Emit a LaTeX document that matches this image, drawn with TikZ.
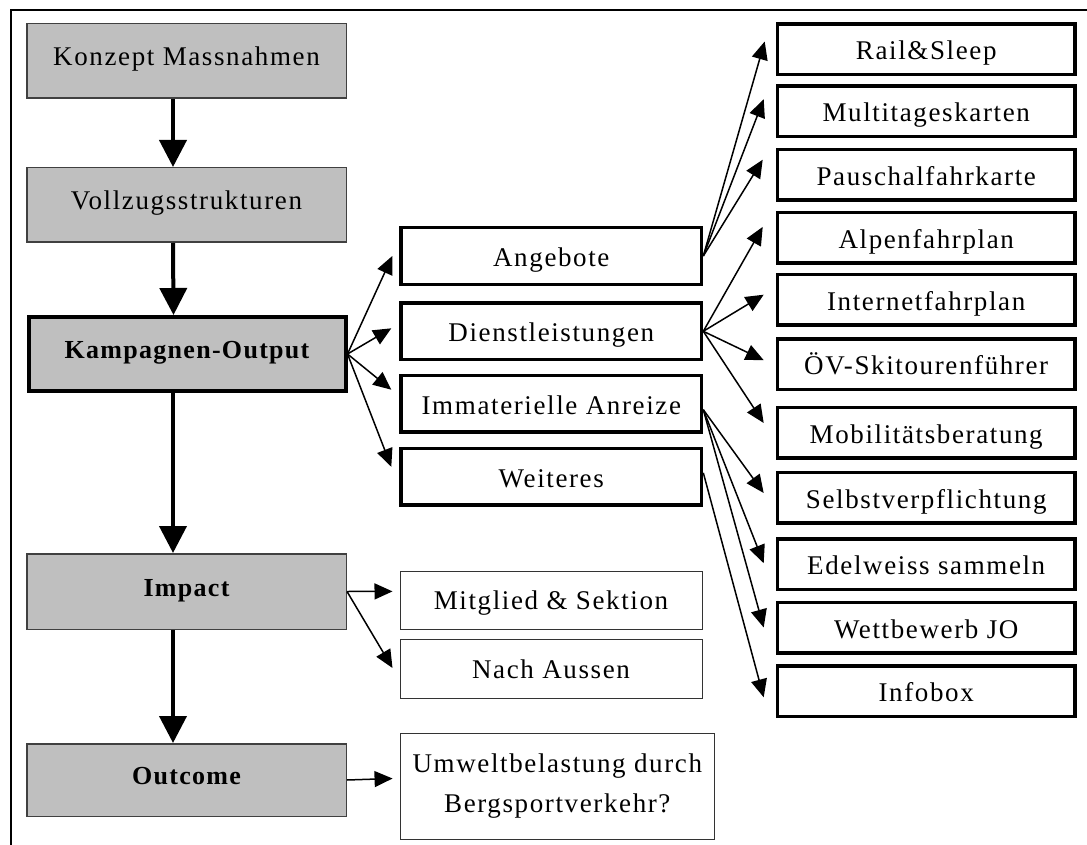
\documentclass[tikz,border=0pt]{standalone}
\usepackage{fontspec}
\setmainfont{Liberation Serif}[LetterSpace=6, BoldFeatures={LetterSpace=5}]
\usetikzlibrary{arrows.meta}

\begin{document}
\begin{tikzpicture}[x=1pt, y=-1pt, >={Triangle[length=18pt, width=16pt]},
    txt/.style={font=\fontsize{27}{40}\selectfont},
    grey/.style={txt, text height=17pt, text depth=8pt, draw=black!75, fill=black!25, line width=1.5pt,
      inner sep=0pt, minimum width=319.5pt, minimum height=74.5pt},
    bold/.style={font=\fontsize{26}{31}\selectfont\bfseries},
    box/.style={txt, text height=24pt, text depth=3pt, draw, line width=3.5pt, inner sep=0pt,
      minimum width=300.5pt, minimum height=56.5pt},
    item/.style={box, minimum width=297.5pt, minimum height=50.5pt},
    note/.style={txt, text height=22pt, text depth=4pt, draw=black!80, line width=1pt, inner sep=0pt,
      minimum width=302pt, minimum height=59pt}]
        \useasboundingbox (0,0) rectangle (1087,845);
        \draw[line width=2pt] (10.5,850) -- (10.5,10.5) -- (1095,10.5);
        % left column
        \node[grey] (0) at (186.5, 61) {Konzept Massnahmen};
        \node[grey] (1) at (186.5, 205) {Vollzugsstrukturen};
        \node[grey, bold, draw=black, line width=4pt, minimum width=317pt, minimum height=74pt] (2) at (187, 354) {Kampagnen-Output};
        \node[grey, bold, minimum height=75.5pt] (3) at (186.5, 591.5) {Impact};
        \node[grey, bold, minimum height=72.5pt] (4) at (186.5, 780) {Outcome};
        % output groups
        \node[box] (10) at (551.3, 256) {Angebote};
        \node[box] (11) at (551.3, 331.3) {Dienstleistungen};
        \node[box] (12) at (551.3, 403.7) {Immaterielle Anreize};
        \node[box] (13) at (551.3, 476.8) {Weiteres};
        % measures
        \node[item] (20) at (926.2, 49.5) {Rail\&Sleep};
        \node[item] (21) at (926.2, 111.2) {Multitageskarten};
        \node[item] (22) at (926.2, 174.7) {Pauschalfahrkarte};
        \node[item] (23) at (926.2, 237.9) {Alpenfahrplan};
        \node[item] (24) at (926.2, 299.7) {Internetfahrplan};
        \node[item] (25) at (926.2, 364.2) {ÖV-Skitourenführer};
        \node[item] (26) at (926.2, 432.5) {Mobilitätsberatung};
        \node[item] (27) at (926.2, 497.5) {Selbstverpflichtung};
        \node[item] (28) at (926.2, 564.2) {Edelweiss sammeln};
        \node[item] (29) at (926.2, 627.5) {Wettbewerb JO};
        \node[item] (30) at (926.2, 691.3) {Infobox};
        % impact and outcome
        \node[note, minimum height=58.5pt] (40) at (551, 600.4) {Mitglied \& Sektion};
        \node[note] (41) at (551, 669) {Nach Aussen};
        \node[note, text height=, text depth=, minimum width=314.5pt, minimum height=106pt, align=center] (42) at (557.3, 786)
          {Umweltbelastung durch\\Bergsportverkehr?};
        \path[line width=4pt, -{Triangle[length=27pt, width=27pt]}]
          ([xshift=-13.5pt]0.south) edge ([xshift=-13.5pt]1.north)
          ([xshift=-13.5pt]1.south) edge ([xshift=-13.5pt]2.north)
          ([xshift=-14pt]2.south) edge ([xshift=-13.5pt]3.north)
          ([xshift=-13.5pt]3.south) edge ([xshift=-13.5pt]4.north);
        \path[->, line width=1.5pt]
          (2.east) edge ([xshift=-7pt]10.west)
          (2.east) edge ([xshift=-8pt, yshift=3pt]11.west)
          (2.east) edge ([xshift=-8pt, yshift=14pt]12.west)
          (2.east) edge ([xshift=-8pt, yshift=10pt]13.west)
          (10.east) edge ([xshift=-11pt, yshift=8pt]20.west)
          (10.east) edge ([xshift=-12pt, yshift=12pt]21.west)
          (10.east) edge ([xshift=-13pt, yshift=15pt]22.west)
          (11.east) edge ([xshift=-13pt, yshift=11pt]23.west)
          (11.east) edge ([xshift=-12pt, yshift=5pt]24.west)
          (11.east) edge ([xshift=-12pt, yshift=4pt]25.west)
          (11.east) edge ([xshift=-12pt, yshift=9.5pt]26.west)
          ([yshift=-6pt]12.east) edge ([xshift=-12pt, yshift=4.5pt]27.west)
          ([yshift=-6pt]12.east) edge ([xshift=-12pt, yshift=1pt]28.west)
          ([yshift=-6pt]12.east) edge ([xshift=-12pt]29.west)
          ([yshift=4pt]13.east) edge ([xshift=-12pt, yshift=-6pt]30.west)
          (3.east) edge ([xshift=-7pt, yshift=9pt]40.west)
          (3.east) edge ([xshift=-7pt, yshift=1pt]41.west)
          (4.east) edge ([xshift=-7pt, yshift=7.5pt]42.west);
\end{tikzpicture}
\end{document}
